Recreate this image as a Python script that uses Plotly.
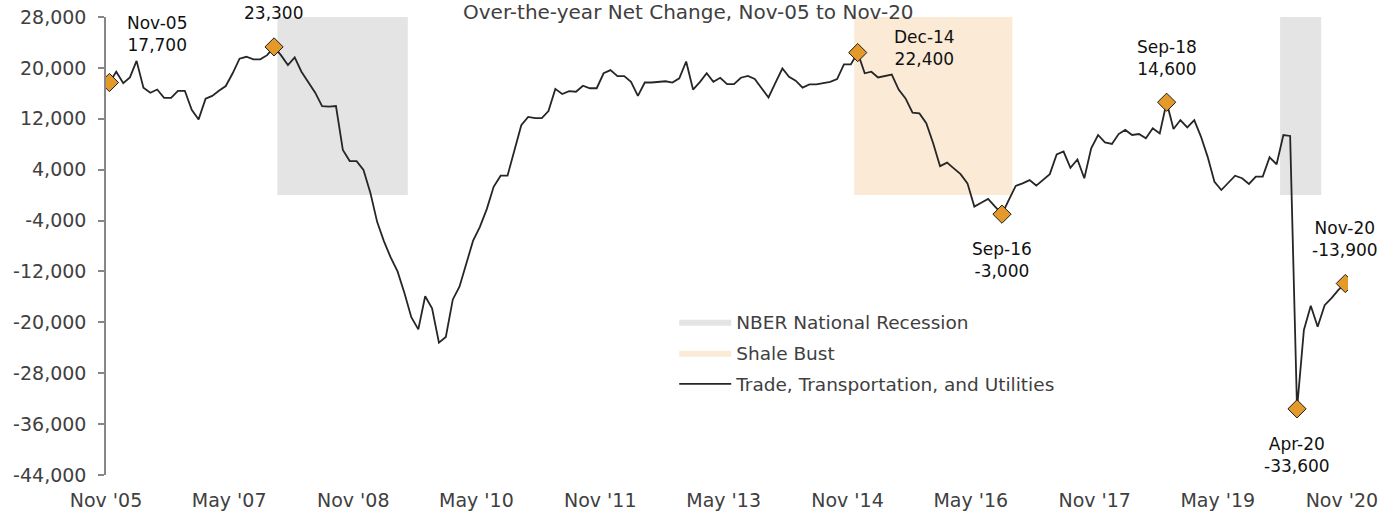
import pandas as pd
import plotly.graph_objects as go

# ---------------- data ----------------
START = "2005-11-01"
VALUES = [
    17700, 19400, 17600, 18500, 21100, 16900, 16100, 16600, 15300, 15300, 16400, 16400,   # Nov05-Oct06
    13400, 11900, 15150, 15600, 16400, 17150, 19150, 21450, 21750, 21350, 21350, 22000,   # Nov06-Oct07
    23300, 22000, 20450, 21650, 19400, 17800, 16100, 14000, 13900, 14000, 7100, 5350,     # Nov07-Oct08
    5350, 3950, 300, -4200, -7200, -9800, -12000, -15400, -19200, -21100, -15900, -17800, # Nov08-Oct09
    -23200, -22300, -16400, -14400, -11000, -7200, -5000, -2200, 1300, 3050, 3050, 6830,  # Nov09-Oct10
    11000, 12300, 12100, 12100, 13200, 16700, 15900, 16350, 16250, 17200, 16800, 16800,   # Nov10-Oct11
    19150, 19650, 18700, 18700, 17800, 15600, 17700, 17700, 17800, 17900, 17700, 18350,   # Nov11-Oct12
    21000, 16600, 17800, 19150, 17800, 18450, 17450, 17450, 18450, 18750, 18250, 16800,   # Nov12-Oct13
    15350, 17650, 19900, 18600, 18000, 16900, 17400, 17400, 17550, 17800, 18250, 20550,   # Nov13-Oct14
    20550, 22400, 19150, 19400, 18500, 18700, 18950, 16600, 15200, 12950, 12850, 11300,   # Nov14-Oct15
    8150, 4550, 5100, 4200, 3300, 1850, -1800, -1200, -600, -1800, -3000, -750,           # Nov15-Oct16
    1450, 1850, 2350, 1500, 2350, 3300, 6400, 6850, 4300, 5600, 2650, 7350,               # Nov16-Oct17
    9450, 8300, 8050, 9600, 10250, 9450, 9600, 8950, 10500, 9700, 14600, 10400,           # Nov17-Oct18
    11800, 10650, 11800, 9200, 6050, 2100, 800, 1950, 3050, 2650, 1750, 2900,             # Nov18-Oct19
    2900, 5950, 4850, 9450, 9300, -33600, -21200, -17400, -20700, -17300, -16200, -14900, # Nov19-Oct20
    -13900,                                                                               # Nov20
]
DATES = pd.date_range(START, periods=len(VALUES), freq="MS")

NBER_PERIODS = [("2007-12-01", "2009-07-01"), ("2020-02-01", "2020-08-01")]
SHALE_PERIODS = [("2014-12-01", "2016-11-01")]
SHADE_TOP = 28000

HIGHLIGHT_DATES = ["2005-11-01", "2007-11-01", "2014-12-01", "2016-09-01",
                   "2018-09-01", "2020-04-01", "2020-11-01"]
HIGHLIGHT_LABELS = ["Nov-05<br>17,700", "23,300", "Dec-14<br>22,400", "Sep-16<br>-3,000",
                    "Sep-18<br>14,600", "Apr-20<br>-33,600", "Nov-20<br>-13,900"]

X_TICKS = ["2005-11-01", "2007-05-01", "2008-11-01", "2010-05-01", "2011-11-01", "2013-05-01",
           "2014-11-01", "2016-05-01", "2017-11-01", "2019-05-01", "2020-11-01"]
X_TICK_LABELS = ["Nov '05", "May '07", "Nov '08", "May '10", "Nov '11", "May '13",
                 "Nov '14", "May '16", "Nov '17", "May '19", "Nov '20"]
Y_TICKS = [-44000, -36000, -28000, -20000, -12000, -4000, 4000, 12000, 20000, 28000]
Y_TICK_LABELS = ["-44,000", "-36,000", "-28,000", "-20,000", "-12,000", "-4,000",
                 "4,000", "12,000", "20,000", "28,000"]

TITLE = "Over-the-year Net Change, Nov-05 to Nov-20"
SERIES_NAME = "Trade, Transportation, and Utilities"

# ---------------- styling ----------------
FONT = "DejaVu Sans"
AXIS_GREY = "#878787"
TEXT_GREY = "#404040"
LABEL_SHIFTS = [(51, 49), (3, 34), (70, 5), (3, -46), (4, 44), (3, -46), (3, 45)]

value_by_date = dict(zip(DATES.strftime("%Y-%m-%d"), VALUES))
hl_values = [value_by_date[d] for d in HIGHLIGHT_DATES]


def rect_path(periods, top):
    xs, ys = [], []
    for s, e in periods:
        xs += [s, s, e, e, s, None]
        ys += [0, top, top, 0, 0, None]
    return xs, ys


fig = go.Figure()

nx, ny = rect_path(NBER_PERIODS, SHADE_TOP)
fig.add_trace(go.Scatter(x=nx, y=ny, fill="toself", fillcolor="#E4E4E4", mode="lines",
                         line=dict(width=0, color="#E4E4E4"), name="NBER National Recession",
                         legendgroup="a", hoverinfo="skip"))
sx, sy = rect_path(SHALE_PERIODS, SHADE_TOP)
fig.add_trace(go.Scatter(x=sx, y=sy, fill="toself", fillcolor="#FAEAD6", mode="lines",
                         line=dict(width=0, color="#FAEAD6"), name="Shale Bust",
                         legendgroup="b", hoverinfo="skip"))

fig.add_trace(go.Scatter(x=DATES, y=VALUES, mode="lines", name=SERIES_NAME,
                         legendgroup="c", xperiod="M1", xperiodalignment="middle",
                         line=dict(color="#262626", width=1.8)))

fig.add_trace(go.Scatter(x=HIGHLIGHT_DATES, y=hl_values, mode="markers", showlegend=False,
                         xperiod="M1", xperiodalignment="middle",
                         marker=dict(symbol="diamond", size=14, color="#E39A2A",
                                     line=dict(color="#1a1a1a", width=1))))

for d, v, lab, (dx, dy) in zip(HIGHLIGHT_DATES, hl_values, HIGHLIGHT_LABELS, LABEL_SHIFTS):
    fig.add_annotation(x=d, y=v, text=lab, showarrow=False, xshift=dx, yshift=dy,
                       xanchor="center", yanchor="middle",
                       font=dict(family=FONT, size=17, color="#111111"))

fig.add_annotation(text=TITLE, xref="paper", yref="paper", x=0.4686, y=1.0109,
                   xanchor="center", yanchor="middle", showarrow=False,
                   font=dict(family=FONT, size=20, color=TEXT_GREY))

x_end = "2020-11-28"
fig.update_layout(
    width=1398, height=513, autosize=False,
    margin=dict(l=106, r=50, t=17, b=38, pad=0, autoexpand=False),
    plot_bgcolor="white", paper_bgcolor="white",
    font=dict(family=FONT, color=TEXT_GREY),
    showlegend=True,
    legend=dict(x=0.4575, y=0.375, xanchor="left", yanchor="top",
                traceorder="grouped", tracegroupgap=4,
                font=dict(family=FONT, size=18.5, color=TEXT_GREY),
                bgcolor="rgba(0,0,0,0)", itemwidth=52),
    xaxis=dict(type="date", range=[START, x_end], tickvals=X_TICKS, ticktext=X_TICK_LABELS,
               ticks="", showline=False, showgrid=False, zeroline=False, automargin=False,
               tickfont=dict(family=FONT, size=19, color=TEXT_GREY), ticklabelstandoff=12),
    xaxis2=dict(type="date", range=[START, x_end], overlaying="x", anchor="free",
                position=44000 / 72000, tickvals=X_TICKS, showticklabels=False,
                ticks="outside", ticklen=6, tickcolor=AXIS_GREY, tickwidth=1.5,
                showline=True, linecolor=AXIS_GREY, linewidth=1.5, automargin=False,
                showgrid=False, zeroline=False),
    yaxis=dict(range=[-44000, 28000], tickvals=Y_TICKS, ticktext=Y_TICK_LABELS,
               ticks="outside", ticklen=6, tickcolor=AXIS_GREY, tickwidth=1.5,
               showline=True, linecolor=AXIS_GREY, linewidth=1.5, automargin=False,
               showgrid=False, zeroline=False,
               tickfont=dict(family=FONT, size=19, color=TEXT_GREY), ticklabelstandoff=8),
)

fig.write_html("out.html", config={"displayModeBar": False},
               post_script="document.body.style.margin='0';")
